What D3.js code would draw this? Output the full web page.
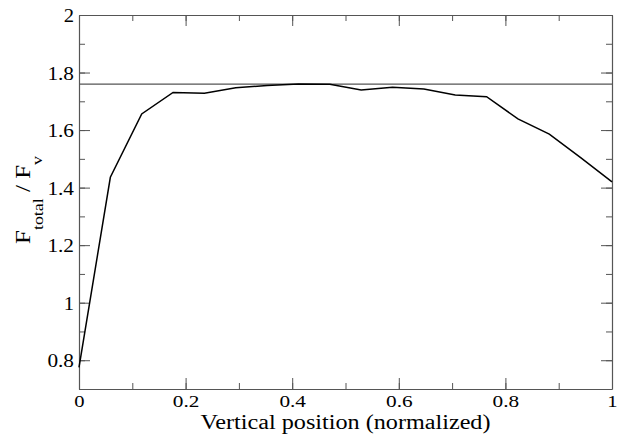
<!DOCTYPE html>
<html><head><meta charset="utf-8">
<script src="https://cdn.jsdelivr.net/npm/d3@7"></script>
<style>body{margin:0;background:#fff}</style>
</head><body><svg id="c" width="639" height="439"></svg>
<script>
const xValues = [0,1,2,3,4,5,6,7,8,9,10,11,12,13,14,15,16,17].map(i => i/17);
const yValues = [0.775,1.436,1.656,1.731,1.728,1.747,1.755,1.760,1.759,1.739,1.749,1.743,1.722,1.716,1.639,1.586,1.504,1.420];
const refValue = 1.76;
const xTicks = [0,0.2,0.4,0.6,0.8,1];
const yTicks = [0.8,1,1.2,1.4,1.6,1.8,2];
const xTitle = "Vertical position (normalized)";

const FONT = "'Liberation Serif'";
const svg = d3.select("#c");
const L=79, R=612, T=15, B=389;
const x = d3.scaleLinear().domain([0,1]).range([L,R]);
const y = d3.scaleLinear().domain([0.7,2]).range([B,T]);
const axisColor = "#555";

const g = svg.append("g");
const xMinor = d3.range(0,1.0001,0.1);
const yMinor = d3.range(0.7,2.0001,0.1);
function drawAxis(axisGen, transform){
  const a = g.append("g").attr("transform",transform).call(axisGen);
  a.selectAll("path,line").attr("stroke",axisColor);
  a.attr("font-family",FONT);
  return a;
}
drawAxis(d3.axisBottom(x).tickValues(xMinor).tickSize(-6).tickFormat(""),`translate(0,${B})`).select(".domain").remove();
drawAxis(d3.axisTop(x).tickValues(xMinor).tickSize(-6).tickFormat(""),`translate(0,${T})`).select(".domain").remove();
drawAxis(d3.axisLeft(y).tickValues(yMinor).tickSize(-6).tickFormat(""),`translate(${L},0)`).select(".domain").remove();
drawAxis(d3.axisRight(y).tickValues(yMinor).tickSize(-6).tickFormat(""),`translate(${R},0)`).select(".domain").remove();

const fmt = d => String(+(+d).toFixed(1));
const xb = drawAxis(d3.axisBottom(x).tickValues(xTicks).tickSizeInner(-11).tickSizeOuter(0).tickFormat(fmt),`translate(0,${B})`);
drawAxis(d3.axisTop(x).tickValues(xTicks).tickSizeInner(-11).tickSizeOuter(0).tickFormat(""),`translate(0,${T})`);
const yl = drawAxis(d3.axisLeft(y).tickValues(yTicks).tickSizeInner(-11).tickSizeOuter(0).tickFormat(fmt),`translate(${L},0)`);
drawAxis(d3.axisRight(y).tickValues(yTicks).tickSizeInner(-11).tickSizeOuter(0).tickFormat(""),`translate(${R},0)`);
const cw = ch => ch === "." ? 6 : 10.3;
const tl = s => d3.sum(s.split(""), cw);
xb.selectAll("text").attr("font-family",FONT).attr("font-size",17).attr("fill","#000")
  .attr("y",18).attr("dy",0).attr("textLength",d=>tl(fmt(d))).attr("lengthAdjust","spacingAndGlyphs");
yl.selectAll("text").attr("font-family",FONT).attr("font-size",19).attr("fill","#000")
  .attr("x",-5).attr("dy","0.34em").attr("textLength",d=>tl(fmt(d))).attr("lengthAdjust","spacingAndGlyphs");
g.selectAll(".domain").attr("stroke-width",1.2);

// reference line
svg.append("line").attr("x1",x(0)).attr("x2",x(1)).attr("y1",y(refValue)).attr("y2",y(refValue))
  .attr("stroke","#555").attr("stroke-width",1.2);

// data line
const pts = xValues.map((v,i)=>[v,yValues[i]]);
svg.append("path").datum(pts)
  .attr("d",d3.line().x(d=>x(d[0])).y(d=>y(d[1])))
  .attr("fill","none").attr("stroke","#000").attr("stroke-width",1.5);

// titles
svg.append("text").attr("x",(L+R)/2).attr("y",429).attr("text-anchor","middle")
  .attr("font-family",FONT).attr("font-size",20).attr("textLength",290).attr("lengthAdjust","spacingAndGlyphs").text(xTitle);
const yt = svg.append("text").attr("transform",`translate(30,200) rotate(-90)`).attr("text-anchor","middle")
  .attr("font-family",FONT).attr("font-size",21).attr("textLength",88).attr("lengthAdjust","spacingAndGlyphs");
yt.append("tspan").text("F");
yt.append("tspan").attr("font-size",15).attr("dy",13).text("total");
yt.append("tspan").attr("dy",-13).text(" / F");
yt.append("tspan").attr("font-size",15).attr("dy",12).text("v");
</script></body></html>
